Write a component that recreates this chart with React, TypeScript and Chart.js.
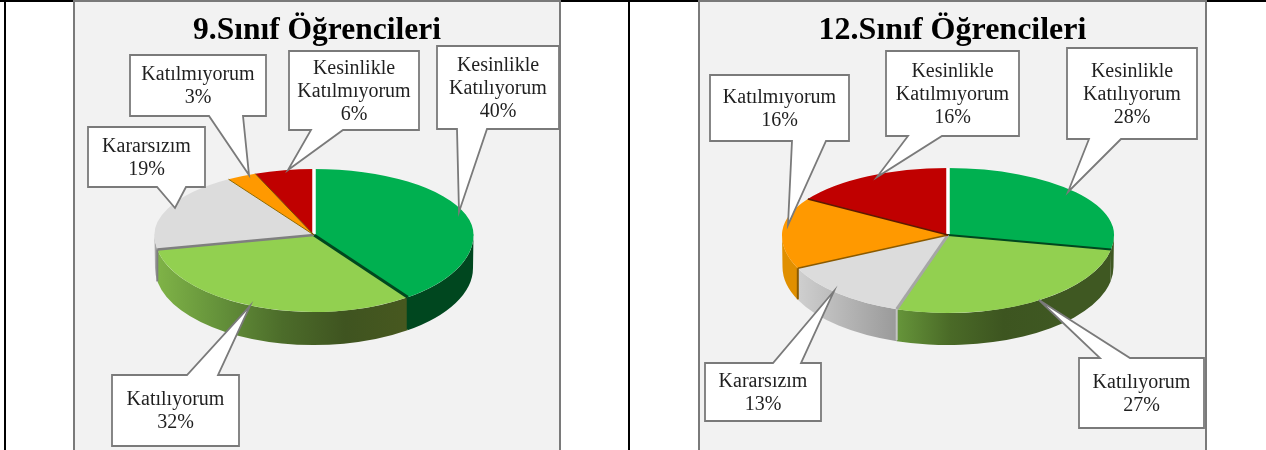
import React, { useEffect, useRef } from "react";
import { Chart, registerables } from "chart.js";

Chart.register(...registerables);

const categories = ["Kesinlikle Katılıyorum", "Katılıyorum", "Kararsızım", "Katılmıyorum", "Kesinlikle Katılmıyorum"];
const grade9Values = [40, 32, 19, 3, 6];
const grade12Values = [28, 27, 13, 16, 16];
const grade9Title = "9.Sınıf Öğrencileri";
const grade12Title = "12.Sınıf Öğrencileri";

const sliceColors = ["#00b050", "#92d050", "#dcdcdc", "#ff9900", "#c00000"];
const SERIF = '"Liberation Serif", serif';

const panel9 = {
  left: 73, width: 488, titleSize: 31.5,
  cx: 314, cy: 235, rx: 159.5, ryTop: 66, ryBottom: 77, wallTop: 33, wallRx: 159, wallRy: 77,
  edges: [["#ffffff", 3.5, null], ["#00471f", 3, "#00471f"], ["#7f7f7f", 2.5, "#7f7f7f"], ["#8f6a00", 1, null], ["#7a4a00", 1, null]],
  walls: [
    ["#00471f", "#00471f"],
    ["#7fb347", "#64913a", "#4c6c2a", "#3f5420", "#47581f"],
    ["#a6a6a6", "#a6a6a6"],
    ["#e08f00", "#e08f00"],
    ["#800000", "#800000"],
  ],
  boxes: [
    { x0: 437, x1: 559, y0: 46, y1: 129, b0: 457, b1: 487, tip: [459, 212] },
    { x0: 112, x1: 239, y0: 375, y1: 446, b0: 187, b1: 218, tip: [250, 306] },
    { x0: 88, x1: 205, y0: 127, y1: 187, b0: 157, b1: 186, tip: [175, 208] },
    { x0: 130, x1: 266, y0: 55, y1: 116, b0: 209, b1: 243, tip: [249, 175] },
    { x0: 289, x1: 419, y0: 51, y1: 130, b0: 311, b1: 343, tip: [288, 170] },
  ],
};

const panel12 = {
  left: 698, width: 509, titleSize: 32,
  cx: 948, cy: 235, rx: 166, ryTop: 67, ryBottom: 78, wallTop: 32, wallRx: 165.5, wallRy: 78,
  edges: [["#ffffff", 3.5, null], ["#00471f", 2, null], ["#a6a6a6", 3, "#c4c4c4"], ["#8a5a00", 1.5, "#8a5a00"], ["#5e1a00", 1.5, null]],
  walls: [
    ["#3f5822", "#3f5822"],
    ["#66953a", "#4a6a27", "#3d5520", "#3f5822", "#3f5822"],
    ["#cfcfcf", "#9a9a9a"],
    ["#e08f00", "#e08f00"],
    ["#800000", "#800000"],
  ],
  boxes: [
    { x0: 1067, x1: 1197, y0: 48, y1: 139, b0: 1089, b1: 1121, tip: [1068, 192] },
    { x0: 1079, x1: 1204, y0: 358, y1: 428, b0: 1100, b1: 1130, tip: [1039, 300] },
    { x0: 705, x1: 821, y0: 363, y1: 421, b0: 773, b1: 801, tip: [834, 291] },
    { x0: 710, x1: 849, y0: 75, y1: 141, b0: 792, b1: 826, tip: [788, 225] },
    { x0: 886, x1: 1019, y0: 51, y1: 136, b0: 908, b1: 942, tip: [877, 177] },
  ],
};

function calloutLines(name: string, value: number): string[] {
  const words = name.split(" ");
  return [...words, `${value}%`];
}

function piePlugin(p: any) {
  const ox = p.left;
  return {
    id: "pie3d",
    beforeDatasetDraw(chart: any) {
      const { ctx } = chart;
      const meta = chart.getDatasetMeta(0);
      const arcs = meta.data;
      const cx = p.cx - ox;
      const cy = p.cy;

      // side walls of the disc
      arcs.forEach((arc: any, i: number) => {
        const a0 = Math.max(arc.startAngle, 0);
        const a1 = Math.min(arc.endAngle, Math.PI);
        if (a1 <= a0) return;
        const xa = cx + p.rx * Math.cos(a1);
        const xb = cx + p.rx * Math.cos(a0);
        const g = ctx.createLinearGradient(Math.min(xa, xb), 0, Math.max(xa, xb), 0);
        const stops = p.walls[i];
        stops.forEach((c: string, k: number) => g.addColorStop(k / (stops.length - 1), c));
        ctx.beginPath();
        ctx.ellipse(cx, cy, p.rx, p.ryBottom, 0, a0, a1);
        ctx.ellipse(cx, cy + p.wallTop, p.wallRx, p.wallRy, 0, a1, a0, true);
        ctx.closePath();
        ctx.fillStyle = g;
        ctx.fill();
      });

      // top face, with a flatter far half than near half
      const W = chart.width;
      const H = chart.height;
      const parts = [
        { y: 0, h: cy + 0.5, ry: p.ryTop },
        { y: cy - 0.5, h: H - cy + 0.5, ry: p.ryBottom },
      ];
      parts.forEach((part) => {
        ctx.save();
        ctx.beginPath();
        ctx.rect(0, part.y, W, part.h);
        ctx.clip();
        arcs.forEach((arc: any) => {
          ctx.save();
          ctx.translate(cx, cy);
          ctx.scale(1, part.ry / arc.outerRadius);
          ctx.translate(-arc.x, -arc.y);
          arc.draw(ctx);
          ctx.restore();
        });
        ctx.restore();
      });

      // slice boundaries, on the top face and down the wall
      arcs.forEach((arc: any, i: number) => {
        const [color, width, wallColor] = p.edges[i];
        const a = arc.startAngle;
        const sy = Math.sin(a);
        const ex = cx + p.rx * Math.cos(a);
        const ey = cy + (sy < 0 ? p.ryTop : p.ryBottom) * sy;
        ctx.beginPath();
        ctx.moveTo(cx, cy);
        ctx.lineTo(ex, ey);
        ctx.strokeStyle = color;
        ctx.lineWidth = width;
        ctx.stroke();
        if (wallColor && sy > 0) {
          ctx.beginPath();
          ctx.moveTo(ex, ey);
          ctx.lineTo(ex, ey + p.wallTop * 0.97);
          ctx.strokeStyle = wallColor;
          ctx.lineWidth = 2;
          ctx.stroke();
        }
      });
      return false;
    },
    afterDatasetsDraw(chart: any) {
      const { ctx } = chart;
      const values = chart.data.datasets[0].data;
      p.boxes.forEach((b: any, i: number) => {
        const x0 = b.x0 - ox;
        const x1 = b.x1 - ox;
        const b0 = b.b0 - ox;
        const b1 = b.b1 - ox;
        const tx = b.tip[0] - ox;
        const ty = b.tip[1];
        ctx.beginPath();
        if (ty > b.y1) {
          ctx.moveTo(x0, b.y0);
          ctx.lineTo(x1, b.y0);
          ctx.lineTo(x1, b.y1);
          ctx.lineTo(b1, b.y1);
          ctx.lineTo(tx, ty);
          ctx.lineTo(b0, b.y1);
          ctx.lineTo(x0, b.y1);
        } else {
          ctx.moveTo(x0, b.y0);
          ctx.lineTo(b0, b.y0);
          ctx.lineTo(tx, ty);
          ctx.lineTo(b1, b.y0);
          ctx.lineTo(x1, b.y0);
          ctx.lineTo(x1, b.y1);
          ctx.lineTo(x0, b.y1);
        }
        ctx.closePath();
        ctx.fillStyle = "#ffffff";
        ctx.fill();
        ctx.strokeStyle = "#7a7a7a";
        ctx.lineWidth = 1.8;
        ctx.lineJoin = "miter";
        ctx.stroke();

        const lines = calloutLines(categories[i], values[i]);
        const lh = 23;
        const mid = (x0 + x1) / 2;
        const top = (b.y0 + b.y1) / 2 + 1 - ((lines.length - 1) * lh) / 2;
        ctx.font = `20px ${SERIF}`;
        ctx.fillStyle = "#1f1f1f";
        ctx.textAlign = "center";
        ctx.textBaseline = "middle";
        lines.forEach((t, k) => ctx.fillText(t, mid, top + k * lh));
      });
    },
  };
}

function Pie({ panel, title, values }: { panel: any; title: string; values: number[] }) {
  const ref = useRef<HTMLCanvasElement | null>(null);
  useEffect(() => {
    const chart = new Chart(ref.current as HTMLCanvasElement, {
      type: "pie",
      data: {
        labels: categories,
        datasets: [{ data: values, backgroundColor: sliceColors, borderWidth: 0, radius: panel.rx }],
      },
      options: {
        responsive: false,
        animation: false,
        plugins: {
          legend: { display: false },
          tooltip: { enabled: false },
          title: {
            display: true,
            text: title,
            color: "#000000",
            font: { family: SERIF, size: panel.titleSize, weight: "bold" },
            padding: { top: 12, bottom: 0 },
          },
        },
      },
      plugins: [piePlugin(panel)],
    } as any);
    return () => chart.destroy();
  }, [panel, title, values]);
  return (
    <div
      style={{
        position: "absolute",
        left: panel.left,
        top: 0,
        width: panel.width,
        height: 454,
        background: "#f2f2f2",
        boxShadow: "inset 0 0 0 2px #7a7a7a",
      }}
    >
      <canvas ref={ref} width={panel.width} height={450} style={{ position: "absolute", left: 0, top: 0 }} />
    </div>
  );
}

export default function App() {
  return (
    <div style={{ position: "absolute", left: 0, top: 0, width: 1266, height: 450, overflow: "hidden", background: "#fff" }}>
      <div style={{ position: "absolute", inset: 0, filter: "blur(0.4px)" }}>
        <div style={{ position: "absolute", left: 0, top: 0, width: 1266, height: 1.5, background: "#000" }} />
        <div style={{ position: "absolute", left: 4, top: 0, width: 2, height: 450, background: "#000" }} />
        <div style={{ position: "absolute", left: 628, top: 0, width: 2, height: 450, background: "#000" }} />
        <Pie panel={panel9} title={grade9Title} values={grade9Values} />
        <Pie panel={panel12} title={grade12Title} values={grade12Values} />
      </div>
    </div>
  );
}
